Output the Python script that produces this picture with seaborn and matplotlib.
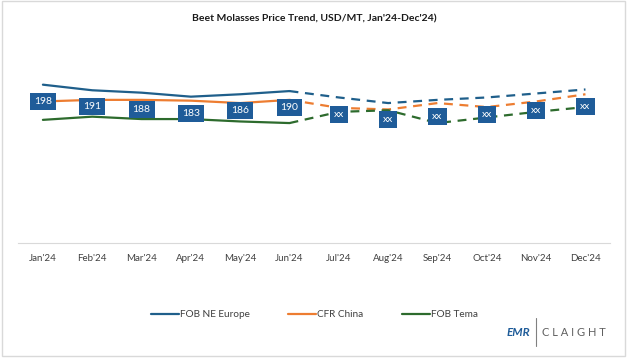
import matplotlib
matplotlib.use("Agg")
import matplotlib.pyplot as plt
from matplotlib.patches import Rectangle
from matplotlib.lines import Line2D
import numpy as np
import pandas as pd
import seaborn as sns

# data (USD/MT)
months = ["Jan'24", "Feb'24", "Mar'24", "Apr'24", "May'24", "Jun'24",
          "Jul'24", "Aug'24", "Sep'24", "Oct'24", "Nov'24", "Dec'24"]
fob_ne_europe = [198, 191, 188, 183, 186, 190, 182, 175, 179, 182, 187, 192]
cfr_china = [177, 179, 179, 178, 175, 179, 169, 167, 175, 170, 177, 186]
fob_tema = [154, 158, 155, 155, 152, 150, 164, 166, 150, 157, 164, 170]
point_labels = ["198", "191", "188", "183", "186", "190", "xx", "xx", "xx", "xx", "xx", "xx"]
series_names = ["FOB NE Europe", "CFR China", "FOB Tema"]
n_actual = 6  # Jan-Jun actual, Jun-Dec forecast (dashed)

COLORS = {"FOB NE Europe": "#1F5F8B", "CFR China": "#ED7D31", "FOB Tema": "#2D6B2D"}
LABEL_BG = "#1F5C99"

df = pd.DataFrame({"month": months, "FOB NE Europe": fob_ne_europe,
                   "CFR China": cfr_china, "FOB Tema": fob_tema})
df["pos"] = np.arange(len(months))
long = df.melt(id_vars=["month", "pos"], value_vars=series_names,
               var_name="series", value_name="price")

sns.set_theme(style="white")
plt.rcParams["font.family"] = ["Lato", "DejaVu Sans"]

fig = plt.figure(figsize=(6.29, 3.59), dpi=100)
ax = fig.add_axes([0.029, 0.323, 0.941, 0.557])

actual = long[long["pos"] < n_actual]
forecast = long[long["pos"] >= n_actual - 1]
sns.lineplot(data=actual, x="pos", y="price", hue="series", hue_order=series_names,
             palette=COLORS, linewidth=1.6, legend=False, ax=ax)
sns.lineplot(data=forecast, x="pos", y="price", hue="series", hue_order=series_names,
             palette=COLORS, linewidth=1.6, legend=False, ax=ax)
for line in ax.get_lines()[3:]:
    line.set_dashes([4, 3])

# data labels below the FOB NE Europe line
for i, (val, lab) in enumerate(zip(fob_ne_europe, point_labels)):
    ax.annotate(lab, (i, val), xytext=(0, -12), textcoords="offset points",
                ha="center", va="center", color="white", fontsize=7.5,
                bbox=dict(boxstyle="square,pad=0.38", fc=LABEL_BG, ec="none"))

ax.set_xlim(-0.5, len(months) - 0.5)
ax.set_ylim(0, 250)
ax.set_xticks(range(len(months)))
ax.set_xticklabels(months, fontsize=7, color="#404040")
ax.set_xticks(np.arange(-0.5, len(months)), minor=True)
ax.tick_params(axis="x", which="major", length=0, pad=8)
ax.tick_params(axis="x", which="minor", length=3, color="#D9D9D9", width=0.8)
ax.set_yticks([])
ax.set_xlabel("")
ax.set_ylabel("")
for side in ["left", "right", "top"]:
    ax.spines[side].set_visible(False)
ax.spines["bottom"].set_color("#D9D9D9")
ax.spines["bottom"].set_linewidth(0.8)

fig.text(0.5, 0.948, "Beet Molasses Price Trend, USD/MT, Jan'24-Dec'24)",
         ha="center", va="center", fontsize=7.5, fontweight="bold", color="#1A1A1A")

handles = [Line2D([], [], color=COLORS[s], linewidth=1.6) for s in series_names]
fig.legend(handles, series_names, loc="center", bbox_to_anchor=(0.5, 0.123), ncol=3,
           frameon=False, fontsize=7.2, handlelength=2.8, handletextpad=0.1,
           columnspacing=3.8, labelcolor="#404040")

# logo
fig.text(0.843, 0.075, "EMR", ha="right", va="center", fontsize=8.5, fontweight="bold",
         style="italic", color="#1F5C99")
fig.add_artist(Line2D([0.852, 0.852], [0.035, 0.115], color="#808080", linewidth=0.8))
fig.text(0.862, 0.075, "C L A I G H T", ha="left", va="center", fontsize=8, color="#606060")

fig.add_artist(Rectangle((0.003, 0.008), 0.991, 0.989, transform=fig.transFigure,
                         fill=False, edgecolor="#D9D9D9", linewidth=1))

fig.savefig("out.png", dpi=100)
